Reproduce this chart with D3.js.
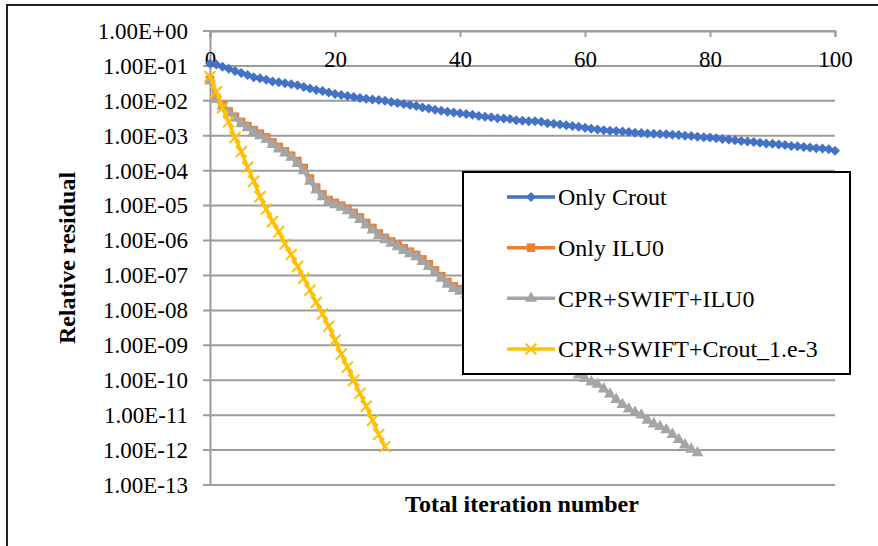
<!DOCTYPE html>
<html>
<head>
<meta charset="utf-8">
<script src="https://cdn.jsdelivr.net/npm/d3@7"></script>
<style>
  body { margin: 0; background: #fff; }
  text { font-family: "Liberation Serif", "Times New Roman", serif; fill: #000; }
</style>
</head>
<body>
<script>
// residual history per iteration (index = iteration number)
var onlyCrout = [
  1.17e-1, 1.10e-1, 9.5e-2, 8.3e-2, 7.2e-2, 6.3e-2, 5.5e-2, 4.7e-2, 4.4e-2, 4.0e-2,
  3.6e-2, 3.4e-2, 3.2e-2, 3.0e-2, 2.8e-2, 2.5e-2, 2.24e-2, 2.04e-2, 1.9e-2, 1.74e-2,
  1.58e-2, 1.48e-2, 1.38e-2, 1.29e-2, 1.2e-2, 1.15e-2, 1.1e-2, 1.05e-2, 1.0e-2, 9.3e-3,
  8.7e-3, 8.1e-3, 7.6e-3, 7.1e-3, 6.5e-3, 6.0e-3, 5.6e-3, 5.2e-3, 4.9e-3, 4.6e-3,
  4.4e-3, 4.2e-3, 4.0e-3, 3.7e-3, 3.5e-3, 3.4e-3, 3.2e-3, 3.1e-3, 3.0e-3, 2.8e-3,
  2.7e-3, 2.6e-3, 2.6e-3, 2.5e-3, 2.3e-3, 2.2e-3, 2.1e-3, 2.0e-3, 1.9e-3, 1.8e-3,
  1.7e-3, 1.6e-3, 1.5e-3, 1.45e-3, 1.4e-3, 1.38e-3, 1.32e-3, 1.29e-3, 1.23e-3, 1.2e-3,
  1.17e-3, 1.15e-3, 1.12e-3, 1.1e-3, 1.07e-3, 1.05e-3, 1.0e-3, 9.8e-4, 9.3e-4, 9.1e-4,
  8.9e-4, 8.5e-4, 8.1e-4, 7.8e-4, 7.4e-4, 7.1e-4, 6.8e-4, 6.6e-4, 6.3e-4, 6.0e-4,
  5.9e-4, 5.6e-4, 5.4e-4, 5.1e-4, 5.0e-4, 4.8e-4, 4.6e-4, 4.4e-4, 4.3e-4, 4.1e-4,
  3.7e-4
];

var onlyILU0 = [
  4.0e-2, 1.2e-2, 7.9e-3, 5.0e-3, 3.5e-3, 2.5e-3, 1.9e-3, 1.45e-3, 1.15e-3, 9.0e-4,
  6.5e-4, 4.8e-4, 3.6e-4, 2.7e-4, 1.9e-4, 1.2e-4, 6.0e-5, 3.3e-5, 2.1e-5, 1.45e-5,
  1.2e-5, 1.0e-5, 8.1e-6, 6.2e-6, 4.6e-6, 3.2e-6, 2.3e-6, 1.6e-6, 1.2e-6, 9.5e-7,
  7.6e-7, 6.0e-7, 4.8e-7, 3.9e-7, 2.9e-7, 2.1e-7, 1.4e-7, 9.6e-8, 6.5e-8, 4.9e-8,
  4.1e-8, 3.3e-8, 2.6e-8, 2.0e-8, 1.5e-8, 1.2e-8
];

var cprSwiftIlu0 = [
  3.7e-2, 1.1e-2, 7.1e-3, 4.5e-3, 3.2e-3, 2.2e-3, 1.7e-3, 1.3e-3, 1.0e-3, 7.9e-4,
  5.6e-4, 4.2e-4, 3.2e-4, 2.4e-4, 1.6e-4, 1.0e-4, 5.0e-5, 2.8e-5, 1.8e-5, 1.26e-5,
  1.05e-5, 8.9e-6, 7.1e-6, 5.4e-6, 4.0e-6, 2.8e-6, 2.0e-6, 1.4e-6, 1.05e-6, 8.3e-7,
  6.6e-7, 5.2e-7, 4.2e-7, 3.4e-7, 2.5e-7, 1.8e-7, 1.2e-7, 8.3e-8, 5.6e-8, 4.2e-8,
  3.5e-8, 2.8e-8, 2.2e-8, 1.7e-8, 1.26e-8, 1.0e-8, 7.9e-9, 6.0e-9, 4.5e-9, 3.3e-9,
  2.5e-9, 1.9e-9, 1.4e-9, 1.07e-9, 7.9e-10, 5.6e-10, 4.0e-10, 2.8e-10, 1.9e-10, 1.4e-10,
  1.12e-10, 8.9e-11, 7.6e-11, 5.6e-11, 4.0e-11, 2.8e-11, 2.0e-11, 1.5e-11, 1.2e-11, 1.0e-11,
  7.1e-12, 5.6e-12, 4.7e-12, 3.8e-12, 2.8e-12, 2.0e-12, 1.4e-12, 1.05e-12, 8.3e-13
];

var cprSwiftCrout = [
  5.0e-2, 1.8e-2, 6.3e-3, 2.5e-3, 8.9e-4, 3.5e-4, 1.26e-4, 5.0e-5, 1.8e-5, 7.9e-6,
  3.5e-6, 1.8e-6, 7.9e-7, 4.0e-7, 1.8e-7, 8.3e-8, 3.8e-8, 1.7e-8, 7.9e-9, 3.5e-9,
  1.4e-9, 5.6e-10, 2.4e-10, 1.0e-10, 4.2e-11, 1.8e-11, 7.1e-12, 2.8e-12, 1.26e-12
];

var seriesNames = ["Only Crout", "Only ILU0", "CPR+SWIFT+ILU0", "CPR+SWIFT+Crout_1.e-3"];
var seriesColors = ["#4472C4", "#ED7D31", "#A5A5A5", "#FFC000"];
var xTicks = [0, 20, 40, 60, 80, 100];
var yTicks = [1e0, 1e-1, 1e-2, 1e-3, 1e-4, 1e-5, 1e-6, 1e-7, 1e-8, 1e-9, 1e-10, 1e-11, 1e-12, 1e-13];
var yTickLabels = ["1.00E+00", "1.00E-01", "1.00E-02", "1.00E-03", "1.00E-04", "1.00E-05", "1.00E-06",
                   "1.00E-07", "1.00E-08", "1.00E-09", "1.00E-10", "1.00E-11", "1.00E-12", "1.00E-13"];

var svg = d3.select("body")
            .append("svg")
            .attr("width", 878)
            .attr("height", 546);

// chart area border (runs off the right and bottom of the picture)
svg.append("rect")
   .attr("x", 7).attr("y", 5)
   .attr("width", 900).attr("height", 600)
   .attr("fill", "none").attr("stroke", "#222").attr("stroke-width", 2);

var x = d3.scaleLinear().domain([0, 100]).range([210, 835]);
var y = d3.scaleLog().domain([1, 1e-13]).range([31, 485]);

// horizontal gridlines, sticking out a bit to the left as ticks
svg.selectAll(".grid")
   .data(yTicks)
   .enter().append("line")
   .attr("class", "grid")
   .attr("x1", 203).attr("x2", x(100))
   .attr("y1", d => y(d)).attr("y2", d => y(d))
   .attr("stroke", "#9c9c9c").attr("stroke-width", 2);

var yAxis = svg.append("g")
   .attr("transform", "translate(210,0)")
   .call(d3.axisLeft(y).tickValues(yTicks)
          .tickFormat((d, i) => yTickLabels[i])
          .tickSize(0).tickPadding(22));
yAxis.select(".domain").attr("stroke", "#9c9c9c").attr("stroke-width", 2);
yAxis.selectAll("text").attr("font-size", 23).attr("fill", "#000");

var xAxis = svg.append("g")
   .attr("transform", "translate(0,31)")
   .call(d3.axisBottom(x).tickValues(xTicks).tickSizeInner(6).tickSizeOuter(6).tickPadding(14));
xAxis.select(".domain").attr("stroke", "#9c9c9c").attr("stroke-width", 2);
xAxis.selectAll(".tick line").attr("stroke", "#9c9c9c").attr("stroke-width", 2);
xAxis.selectAll("text").attr("font-size", 23).attr("fill", "#000");

// markers
var diamond = d3.symbol().type(d3.symbolSquare).size(50);
var square = d3.symbol().type(d3.symbolSquare).size(72);
var triangle = d3.symbol().type(d3.symbolTriangle).size(62);
var cross = d3.symbol().type(d3.symbolX).size(80);

var line = d3.line()
    .x((d, i) => x(i))
    .y(d => y(d));

var allSeries = [onlyCrout, onlyILU0, cprSwiftIlu0, cprSwiftCrout];

function drawMarkers(g, data, k, cx, cy) {
  var sel = g.selectAll("path.m").data(data).enter().append("path").attr("class", "m");
  if (k == 0) {
    sel.attr("d", diamond()).attr("fill", seriesColors[k])
       .attr("transform", (d, i) => "translate(" + cx(d, i) + "," + cy(d, i) + ") rotate(45)");
  } else if (k == 1) {
    sel.attr("d", square()).attr("fill", seriesColors[k])
       .attr("transform", (d, i) => "translate(" + cx(d, i) + "," + cy(d, i) + ")");
  } else if (k == 2) {
    sel.attr("d", triangle()).attr("fill", seriesColors[k])
       .attr("transform", (d, i) => "translate(" + cx(d, i) + "," + cy(d, i) + ")");
  } else {
    sel.attr("d", cross()).attr("fill", "none")
       .attr("stroke", seriesColors[k]).attr("stroke-width", 2)
       .attr("transform", (d, i) => "translate(" + cx(d, i) + "," + cy(d, i) + ")");
  }
}

allSeries.forEach(function(data, k) {
  var g = svg.append("g");
  g.append("path")
   .datum(data)
   .attr("d", line)
   .attr("fill", "none")
   .attr("stroke", seriesColors[k])
   .attr("stroke-width", 3.5)
   .attr("stroke-linejoin", "round");
  drawMarkers(g, data, k, (d, i) => x(i), d => y(d));
});

// legend
var legend = svg.append("g");
legend.append("rect")
   .attr("x", 463).attr("y", 172)
   .attr("width", 387).attr("height", 202)
   .attr("fill", "#fff").attr("stroke", "#000").attr("stroke-width", 2);

var rowY = d3.scalePoint().domain(d3.range(4)).range([197, 349]);
seriesNames.forEach(function(name, k) {
  var row = legend.append("g");
  row.append("line")
     .attr("x1", 507).attr("x2", 555)
     .attr("y1", rowY(k)).attr("y2", rowY(k))
     .attr("stroke", seriesColors[k]).attr("stroke-width", 3.5);
  drawMarkers(row, [0], k, () => 531, () => rowY(k));
  row.append("text")
     .attr("x", 558).attr("y", rowY(k))
     .attr("dy", "0.35em")
     .attr("font-size", 24)
     .text(name);
});

// axis titles
svg.append("text")
   .attr("x", 522).attr("y", 512)
   .attr("text-anchor", "middle")
   .attr("font-size", 24).attr("font-weight", "bold")
   .text("Total iteration number");

svg.append("text")
   .attr("transform", "translate(75,258) rotate(-90)")
   .attr("text-anchor", "middle")
   .attr("font-size", 24).attr("font-weight", "bold")
   .text("Relative residual");
</script>
</body>
</html>
